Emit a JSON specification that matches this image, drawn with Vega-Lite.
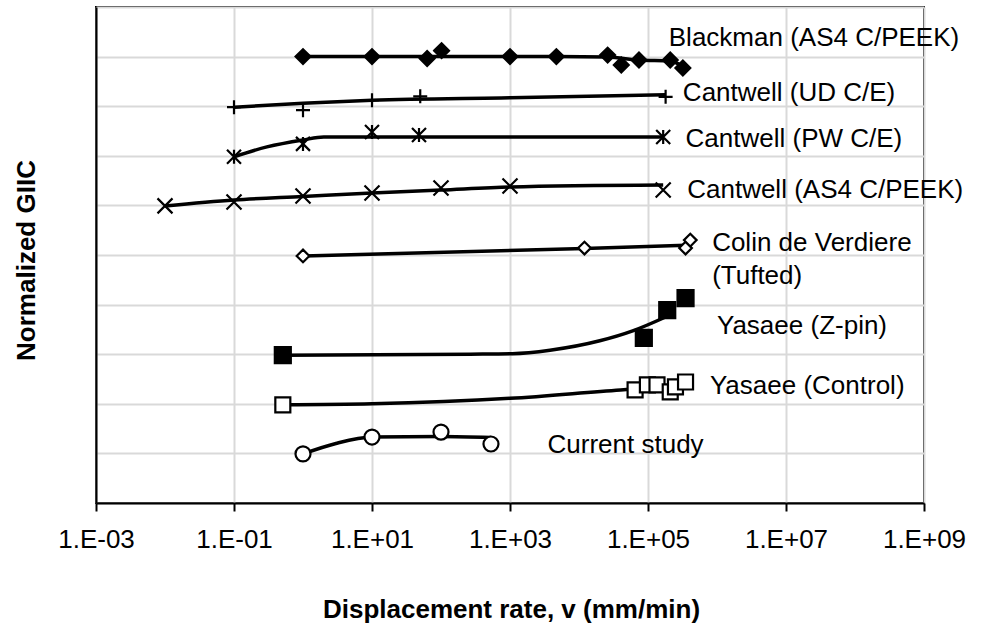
{
  "$schema": "https://vega.github.io/schema/vega-lite/v6.json",
  "width": 828,
  "height": 496,
  "autosize": {"type": "none"},
  "padding": {"left": 96, "top": 7, "right": 57, "bottom": 122},
  "background": "white",
  "config": {
    "view": {"stroke": "black", "strokeWidth": 2},
    "axis": {"domainColor": "black", "domainWidth": 2, "gridColor": "#d9d9d9", "gridWidth": 2, "labelFont": "Liberation Sans", "titleFont": "Liberation Sans", "labelColor": "black", "titleColor": "black"}
  },
  "datasets": {
    "lines": [
      {"series": "Blackman", "v": 1, "g": 9.0},
      {"series": "Blackman", "v": 10, "g": 9.0},
      {"series": "Blackman", "v": 100, "g": 9.0},
      {"series": "Blackman", "v": 1000, "g": 9.0},
      {"series": "Blackman", "v": 4700, "g": 9.0},
      {"series": "Blackman", "v": 26000, "g": 8.99},
      {"series": "Blackman", "v": 74000, "g": 8.93},
      {"series": "Blackman", "v": 210000, "g": 8.91},
      {"series": "Blackman", "v": 320000, "g": 8.8},
      {"series": "UD", "v": 0.1, "g": 7.98},
      {"series": "UD", "v": 1, "g": 8.06},
      {"series": "UD", "v": 10, "g": 8.12},
      {"series": "UD", "v": 1000, "g": 8.17},
      {"series": "UD", "v": 180000, "g": 8.23},
      {"series": "PW", "v": 0.1, "g": 6.98},
      {"series": "PW", "v": 0.3, "g": 7.18},
      {"series": "PW", "v": 1, "g": 7.32},
      {"series": "PW", "v": 2, "g": 7.38},
      {"series": "PW", "v": 10, "g": 7.38},
      {"series": "PW", "v": 166000, "g": 7.38},
      {"series": "AS4", "v": 0.01, "g": 5.99},
      {"series": "AS4", "v": 0.1, "g": 6.11},
      {"series": "AS4", "v": 1, "g": 6.18},
      {"series": "AS4", "v": 10, "g": 6.25},
      {"series": "AS4", "v": 100, "g": 6.31},
      {"series": "AS4", "v": 1000, "g": 6.37},
      {"series": "AS4", "v": 166000, "g": 6.41},
      {"series": "Colin", "v": 1, "g": 4.98},
      {"series": "Colin", "v": 12000, "g": 5.13},
      {"series": "Colin", "v": 380000, "g": 5.2},
      {"series": "Zpin", "v": 0.51, "g": 2.98},
      {"series": "Zpin", "v": 263, "g": 3.0},
      {"series": "Zpin", "v": 1080, "g": 3.01},
      {"series": "Zpin", "v": 3800, "g": 3.08},
      {"series": "Zpin", "v": 20000, "g": 3.27},
      {"series": "Zpin", "v": 60000, "g": 3.47},
      {"series": "Zpin", "v": 180000, "g": 3.75},
      {"series": "Control", "v": 0.51, "g": 1.98},
      {"series": "Control", "v": 10, "g": 2.0},
      {"series": "Control", "v": 1000, "g": 2.11},
      {"series": "Control", "v": 40000, "g": 2.28},
      {"series": "Control", "v": 65000, "g": 2.3},
      {"series": "Current", "v": 1, "g": 0.99},
      {"series": "Current", "v": 3, "g": 1.2},
      {"series": "Current", "v": 10, "g": 1.33},
      {"series": "Current", "v": 100, "g": 1.34},
      {"series": "Current", "v": 530, "g": 1.32}
    ],
    "points": [
      {"series": "Blackman", "v": 1, "g": 9.0},
      {"series": "Blackman", "v": 10, "g": 9.0},
      {"series": "Blackman", "v": 63, "g": 8.96},
      {"series": "Blackman", "v": 102, "g": 9.12},
      {"series": "Blackman", "v": 1000, "g": 9.0},
      {"series": "Blackman", "v": 4700, "g": 9.0},
      {"series": "Blackman", "v": 26000, "g": 9.03},
      {"series": "Blackman", "v": 41000, "g": 8.83},
      {"series": "Blackman", "v": 74000, "g": 8.93},
      {"series": "Blackman", "v": 210000, "g": 8.93},
      {"series": "Blackman", "v": 320000, "g": 8.77},
      {"series": "UD", "v": 0.1, "g": 7.98},
      {"series": "UD", "v": 1, "g": 7.92},
      {"series": "UD", "v": 10, "g": 8.12},
      {"series": "UD", "v": 50, "g": 8.2},
      {"series": "UD", "v": 180000, "g": 8.19},
      {"series": "PW", "v": 0.1, "g": 6.98},
      {"series": "PW", "v": 1, "g": 7.24},
      {"series": "PW", "v": 10, "g": 7.48},
      {"series": "PW", "v": 48, "g": 7.42},
      {"series": "PW", "v": 166000, "g": 7.38},
      {"series": "AS4", "v": 0.01, "g": 5.99},
      {"series": "AS4", "v": 0.1, "g": 6.07},
      {"series": "AS4", "v": 1, "g": 6.19},
      {"series": "AS4", "v": 10, "g": 6.25},
      {"series": "AS4", "v": 100, "g": 6.35},
      {"series": "AS4", "v": 1000, "g": 6.39},
      {"series": "AS4", "v": 166000, "g": 6.31},
      {"series": "Colin", "v": 1, "g": 4.98},
      {"series": "Colin", "v": 12000, "g": 5.14},
      {"series": "Colin", "v": 350000, "g": 5.14},
      {"series": "Colin", "v": 410000, "g": 5.3},
      {"series": "Zpin", "v": 0.51, "g": 2.98},
      {"series": "Zpin", "v": 87000, "g": 3.33},
      {"series": "Zpin", "v": 190000, "g": 3.89},
      {"series": "Zpin", "v": 350000, "g": 4.13},
      {"series": "Control", "v": 0.51, "g": 1.98},
      {"series": "Control", "v": 65000, "g": 2.28},
      {"series": "Control", "v": 98000, "g": 2.38},
      {"series": "Control", "v": 135000, "g": 2.38},
      {"series": "Control", "v": 210000, "g": 2.24},
      {"series": "Control", "v": 250000, "g": 2.34},
      {"series": "Control", "v": 350000, "g": 2.44},
      {"series": "Current", "v": 1, "g": 0.99},
      {"series": "Current", "v": 10, "g": 1.33},
      {"series": "Current", "v": 100, "g": 1.43},
      {"series": "Current", "v": 530, "g": 1.19}
    ],
    "labels": [
      {"label": "Blackman (AS4 C/PEEK)", "v": 200000, "g": 9.37},
      {"label": "Cantwell (UD C/E)", "v": 320000, "g": 8.26},
      {"label": "Cantwell (PW C/E)", "v": 350000, "g": 7.34},
      {"label": "Cantwell (AS4 C/PEEK)", "v": 370000, "g": 6.31},
      {"label": "Colin de Verdiere", "v": 850000, "g": 5.25},
      {"label": "(Tufted)", "v": 850000, "g": 4.58},
      {"label": "Yasaee (Z-pin)", "v": 1000000, "g": 3.57},
      {"label": "Yasaee (Control)", "v": 790000, "g": 2.36},
      {"label": "Current study", "v": 3500, "g": 1.17}
    ]
  },
  "encoding": {
    "x": {
      "field": "v", "type": "quantitative",
      "scale": {"type": "log", "domain": [0.001, 1000000000], "nice": false},
      "axis": {
        "values": [0.001, 0.1, 10, 1000, 100000, 10000000, 1000000000],
        "labelExpr": "'1.E' + (datum.value < 1 ? '-0' : '+0') + abs(round(log(datum.value) / LN10))",
        "labelFontSize": 26, "labelPadding": 15, "labelFlush": false, "labelOverlap": false, "labelAngle": 0,
        "tickSize": 8, "tickColor": "black", "tickWidth": 2,
        "grid": true,
        "title": "Displacement rate, v (mm/min)",
        "titleFontSize": 26, "titleFontWeight": "bold",
        "titleX": 415, "titleY": 106, "titleAlign": "center", "titleBaseline": "middle"
      }
    },
    "y": {
      "field": "g", "type": "quantitative",
      "scale": {"domain": [0, 10], "nice": false, "zero": false},
      "axis": {
        "values": [0, 1, 2, 3, 4, 5, 6, 7, 8, 9, 10],
        "labels": false, "ticks": false, "grid": true,
        "title": "Normalized GIIC",
        "titleFontSize": 26, "titleFontWeight": "bold", "titleAngle": -90,
        "titleX": -70, "titleY": 253, "titleAlign": "center", "titleBaseline": "middle"
      }
    }
  },
  "layer": [
    {
      "data": {"name": "lines"},
      "mark": {"type": "line", "stroke": "black", "strokeWidth": 3.5, "interpolate": "monotone"},
      "encoding": {"detail": {"field": "series"}}
    },
    {
      "data": {"name": "points"},
      "mark": {"type": "point", "filled": true, "stroke": "black", "strokeWidth": 2.2, "opacity": 1, "fillOpacity": 1, "strokeOpacity": 1},
      "encoding": {
        "shape": {"field": "series", "legend": null, "scale": {
          "domain": ["Blackman", "UD", "PW", "AS4", "Colin", "Zpin", "Control", "Current"],
          "range": ["diamond", "M-1,0H1M0,-1V1", "M-1,-1L1,1M-1,1L1,-1M0,-1V1", "M-1,-1L1,1M-1,1L1,-1", "diamond", "square", "square", "circle"]}},
        "fill": {"field": "series", "legend": null, "scale": {
          "domain": ["Blackman", "UD", "PW", "AS4", "Colin", "Zpin", "Control", "Current"],
          "range": ["black", "black", "black", "black", "white", "black", "white", "white"]}},
        "size": {"field": "series", "legend": null, "scale": {
          "type": "ordinal",
          "domain": ["Blackman", "UD", "PW", "AS4", "Colin", "Zpin", "Control", "Current"],
          "range": [220, 196, 196, 225, 160, 256, 225, 225]}}
      }
    },
    {
      "data": {"name": "labels"},
      "mark": {"type": "text", "align": "left", "baseline": "middle", "fontSize": 26, "font": "Liberation Sans", "color": "black"},
      "encoding": {"text": {"field": "label"}}
    }
  ]
}
